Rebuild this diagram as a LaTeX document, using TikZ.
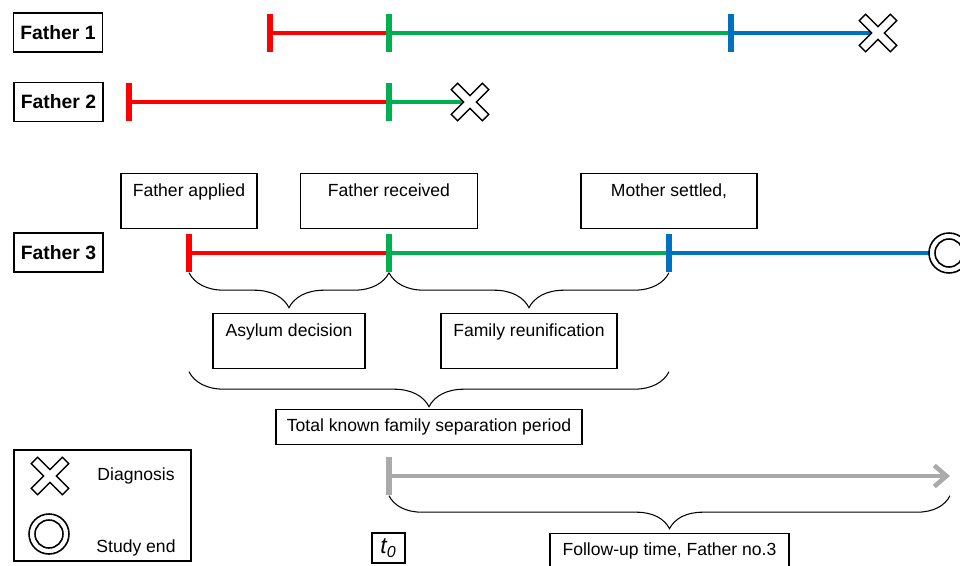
\documentclass[tikz,border=0pt]{standalone}
\usepackage{fontspec}
\setmainfont{Liberation Sans}
\usetikzlibrary{positioning,calc,arrows.meta,decorations.pathreplacing}

\definecolor{sepred}{RGB}{255,0,0}
\definecolor{sepgreen}{RGB}{0,176,80}
\definecolor{sepblue}{RGB}{0,112,192}
\definecolor{fupgray}{RGB}{170,170,170}

\begin{document}
\begin{tikzpicture}[x=0.02cm, y=-0.02cm, thick,
  fatherbox/.style={draw, line width=0.9pt, minimum width=1.78cm, minimum height=0.78cm, font=\fontsize{11}{13}\selectfont\bfseries},
  timetick/.style={fill=#1, inner sep=0pt, minimum width=0.11cm, minimum height=0.76cm},
  seg/.style={draw=#1, line width=0.09cm},
  eventbox/.style={draw, line width=0.8pt, inner xsep=0pt, inner ysep=4pt, text height=9pt, text depth=14.2pt, font=\fontsize{10}{12}\selectfont},
  periodbox/.style={draw, line width=0.8pt, minimum height=0.7cm, font=\fontsize{10}{12}\selectfont},
  curly/.style={decorate, decoration={brace, mirror, amplitude=#1}, line width=0.6pt},
  diagmark/.pic={\draw[fill=white, line width=0.8pt, rotate=45]
    (4.5,4.5) -- (22,4.5) -- (22,-4.5) -- (4.5,-4.5) -- (4.5,-22) -- (-4.5,-22) -- (-4.5,-4.5)
    -- (-22,-4.5) -- (-22,4.5) -- (-4.5,4.5) -- (-4.5,22) -- (4.5,22) -- cycle;},
  endmark/.pic={\draw[fill=white, line width=0.9pt] (0,0) circle[radius=20];
    \draw[line width=0.9pt] (0,0) circle[radius=14];},
]
\useasboundingbox (0,0) rectangle (960,565);

% fathers
\node[fatherbox] (f1) at (58,32.5) {Father 1};
\node[fatherbox] (f2) at (58.5,102) {Father 2};
\node[fatherbox] (f3) at (58.5,252.5) {Father 3};

% father 1
\node[timetick=sepred] (r1) at (270,33) {};
\node[timetick=sepgreen] (g1) at (389,33) {};
\node[timetick=sepblue] (b1) at (731,33) {};
\coordinate (x1) at (878,33);
\path (r1) edge[seg=sepred] (g1)
      (g1) edge[seg=sepgreen] (b1)
      (b1) edge[seg=sepblue] (x1);
\pic at (x1) {diagmark};

% father 2
\node[timetick=sepred] (r2) at (129,102) {};
\node[timetick=sepgreen] (g2) at (389,102) {};
\coordinate (x2) at (470,102);
\path (r2) edge[seg=sepred] (g2)
      (g2) edge[seg=sepgreen] (x2);
\pic at (x2) {diagmark};

% father 3
\node[timetick=sepred] (r3) at (189,253) {};
\node[timetick=sepgreen] (g3) at (389,253) {};
\node[timetick=sepblue] (b3) at (669,253) {};
\coordinate (e3) at (949,253);
\path (r3) edge[seg=sepred] (g3)
      (g3) edge[seg=sepgreen] (b3)
      (b3) edge[seg=sepblue] (e3);
\pic at (e3) {endmark};

\node[eventbox, minimum width=2.72cm, above=0.08cm of r3] (applied) {Father applied};
\node[eventbox, minimum width=3.54cm, above=0.08cm of g3] (received) {Father received};
\node[eventbox, minimum width=3.52cm, above=0.08cm of b3] (settled) {Mother settled,};

% periods
\draw[curly=0.7cm] (r3.south) -- (g3.south);
\draw[curly=0.7cm] (g3.south) -- (b3.south);
\node[eventbox, minimum width=3.04cm, anchor=north] (asylum) at ($(r3.south)!.5!(g3.south)+(0,40)$) {Asylum decision};
\node[eventbox, minimum width=3.52cm, anchor=north] (reunif) at ($(g3.south)!.5!(b3.south)+(0,40)$) {Family reunification};

\draw[curly=0.7cm] ($(r3.south)+(0,99)$) -- ($(b3.south)+(0,99)$);
\node[periodbox, minimum width=6.12cm, anchor=north] (total) at ($(r3.south)!.5!(b3.south)+(0,136)$) {Total known family separation period};

% follow-up
\node[timetick=fupgray] (t0tick) at (389,476) {};
\coordinate (fupend) at (950,476);
\draw[seg=fupgray, -{Straight Barb[length=7pt,width=12pt]}] (t0tick) -- (fupend);
\draw[curly=0.66cm] (t0tick.south) -- (t0tick.south -| fupend);
\node[periodbox, minimum width=4.78cm, anchor=north] (fup) at ($(t0tick.south)!.5!(t0tick.south -| fupend)+(0,37)$) {Follow-up time, Father no.3};
\node[draw, line width=0.8pt, minimum width=0.66cm, minimum height=0.6cm, inner sep=1pt, font=\fontsize{13}{15}\selectfont] (t0) at (388.5,548) {\textit{t\textsubscript{0}}};

% legend
\node[draw, line width=0.8pt, minimum width=3.54cm, minimum height=2.22cm] (legend) at (102.5,505.5) {};
\pic at (50,476) {diagmark};
\pic at (49,534) {endmark};
\node[font=\fontsize{10}{12}\selectfont] (diagtext) at (136,476) {Diagnosis};
\node[font=\fontsize{10}{12}\selectfont] (endtext) at (136,548) {Study end};
\end{tikzpicture}
\end{document}
